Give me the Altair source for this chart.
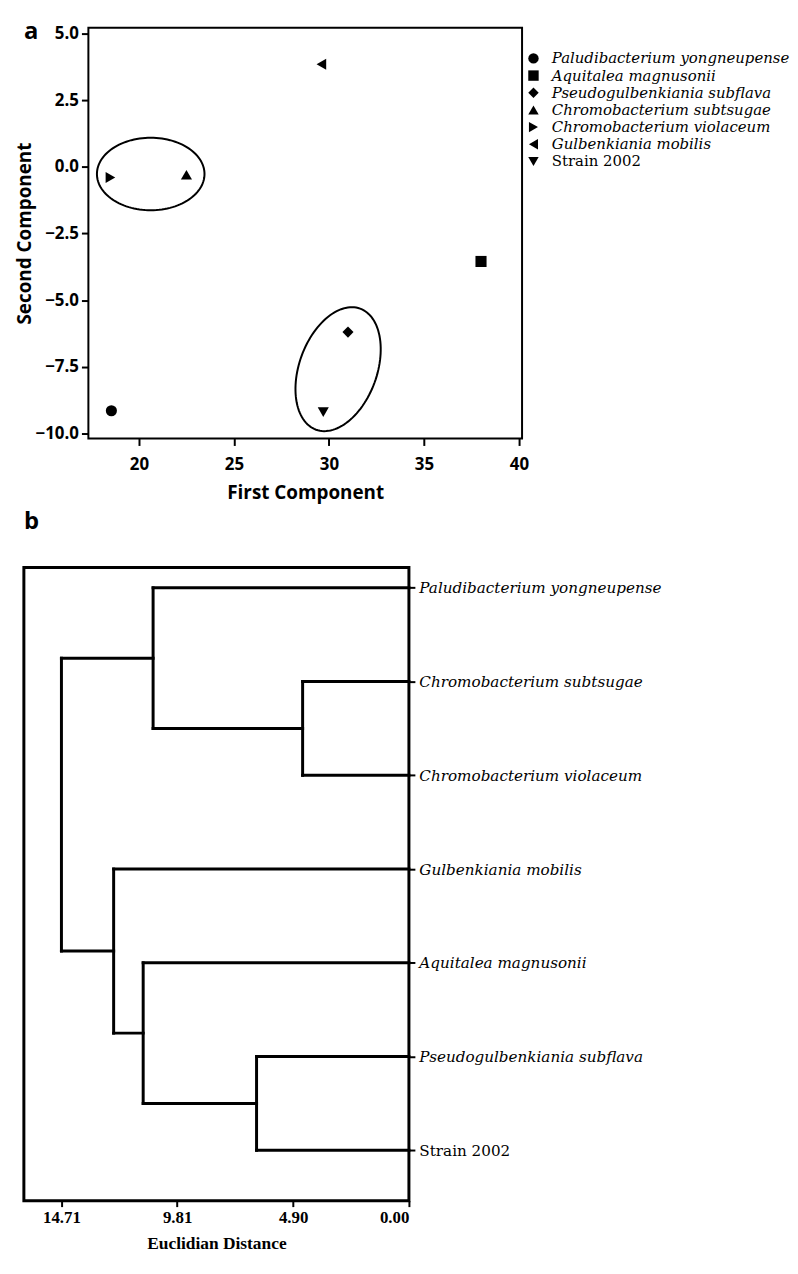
import json
import altair as alt
import numpy as np
import pandas as pd

# ---------------- data: panel a (PCA scatter) ----------------
species = [
    "Paludibacterium yongneupense",
    "Aquitalea magnusonii",
    "Pseudogulbenkiania subflava",
    "Chromobacterium subtsugae",
    "Chromobacterium violaceum",
    "Gulbenkiania mobilis",
    "Strain 2002",
]
first_component = [18.55, 38.0, 31.0, 22.5, 18.5, 29.6, 29.7]
second_component = [-9.15, -3.55, -6.2, -0.3, -0.4, 3.85, -9.2]
marker_shapes = ["circle", "square", "diamond", "triangle-up",
                 "triangle-right", "triangle-left", "triangle-down"]

# cluster ellipses: centre and the two semi-axis vectors (data units)
ellipse_cx = [20.62, 30.48]
ellipse_cy = [-0.27, -7.59]
ellipse_ux = [2.83, 1.16]
ellipse_uy = [0.0, 2.27]
ellipse_vx = [0.0, 1.92]
ellipse_vy = [1.36, -0.50]

x_domain_a = [17.34, 40.16]
y_domain_a = [-10.19, 5.22]
x_ticks_a = [20, 25, 30, 35, 40]
y_ticks_a = [-10.0, -7.5, -5.0, -2.5, 0.0, 2.5, 5.0]

# ---------------- data: panel b (dendrogram) ----------------
dendro_leaves = [
    "Paludibacterium yongneupense",
    "Chromobacterium subtsugae",
    "Chromobacterium violaceum",
    "Gulbenkiania mobilis",
    "Aquitalea magnusonii",
    "Pseudogulbenkiania subflava",
    "Strain 2002",
]
# merges: node ids 0..6 are leaves, merge k creates node 7+k
merge_left = [1, 5, 0, 4, 3, 9]
merge_right = [2, 6, 7, 8, 10, 11]
merge_height = [4.50, 6.45, 10.83, 11.25, 12.50, 14.71]
distance_ticks = [14.71, 9.81, 4.90, 0.00]

# ---------------- build tables ----------------
pts = pd.DataFrame({"species": species, "pc1": first_component, "pc2": second_component})

t = np.linspace(0, 2 * np.pi, 121)
ell_rows = []
for k in range(len(ellipse_cx)):
    for i, tt in enumerate(t):
        ell_rows.append({
            "grp": k, "i": i,
            "x": ellipse_cx[k] + ellipse_ux[k] * np.cos(tt) + ellipse_vx[k] * np.sin(tt),
            "y": ellipse_cy[k] + ellipse_uy[k] * np.cos(tt) + ellipse_vy[k] * np.sin(tt),
        })
ell = pd.DataFrame(ell_rows)
frame_a = pd.DataFrame({"x1": [x_domain_a[0]], "x2": [x_domain_a[1]],
                        "y1": [y_domain_a[0]], "y2": [y_domain_a[1]]})

node_x = {i: 0.0 for i in range(len(dendro_leaves))}
node_y = {i: float(i) for i in range(len(dendro_leaves))}
segs = []
for k, (a, b, h) in enumerate(zip(merge_left, merge_right, merge_height)):
    nid = len(dendro_leaves) + k
    for c in (a, b):
        segs.append({"x": node_x[c], "x2": h, "y": node_y[c], "y2": node_y[c]})
    segs.append({"x": h, "x2": h, "y": node_y[a], "y2": node_y[b]})
    node_x[nid] = h
    node_y[nid] = (node_y[a] + node_y[b]) / 2
segs = pd.DataFrame(segs)

SANS = "Open Sans"
SERIF = "DejaVu Serif"
SERIF_B = "Liberation Serif"

# layout: panel a's frame starts AXIS_ROOM px right of the shared left edge
AXIS_ROOM = 65
PLOT_A_W = 437
PLOT_A_H = 414

# ---------------- panel a ----------------
xa = alt.X("pc1:Q",
           scale=alt.Scale(domain=x_domain_a, range=[AXIS_ROOM, AXIS_ROOM + PLOT_A_W],
                           nice=False, zero=False),
           axis=alt.Axis(title="First Component", values=x_ticks_a, grid=False, domain=False,
                         tickSize=7, tickWidth=2, tickColor="black",
                         labelFont=SANS, labelFontWeight="bold", labelFontSize=17, labelColor="black",
                         labelPadding=11, titleFont=SANS, titleFontWeight="bold", titleFontSize=19,
                         titleColor="black", titlePadding=11))
ya = alt.Y("pc2:Q", scale=alt.Scale(domain=y_domain_a, nice=False, zero=False),
           axis=alt.Axis(title="Second Component", values=y_ticks_a, format=".1f", grid=False,
                         domain=False, offset=-AXIS_ROOM, tickSize=7, tickWidth=2, tickColor="black",
                         labelFont=SANS, labelFontWeight="bold", labelFontSize=17, labelColor="black",
                         labelPadding=3, titleFont=SANS, titleFontWeight="bold", titleFontSize=19,
                         titleColor="black", titlePadding=1))

scatter = alt.Chart(pts).mark_point(filled=True, opacity=1, color="black", size=125).encode(
    x=xa, y=ya,
    shape=alt.Shape("species:N",
                    scale=alt.Scale(domain=species, range=marker_shapes),
                    legend=alt.Legend(title=None, orient="none", legendX=506, legendY=23.5,
                                      labelFont=SERIF, labelFontSize=15, labelColor="black",
                                      labelFontStyle=alt.ExprRef(
                                          expr="datum.value == 'Strain 2002' ? 'normal' : 'italic'"),
                                      symbolFillColor="black", symbolStrokeColor="black",
                                      symbolSize=110, symbolType="circle", labelOffset=11,
                                      rowPadding=0.3, labelLimit=400)),
)

ellipses = alt.Chart(ell).mark_line(color="black", strokeWidth=2).encode(
    x=alt.X("x:Q"), y=alt.Y("y:Q"), detail="grp:N", order="i:Q")

frame = alt.Chart(frame_a).mark_rect(fill=None, stroke="black", strokeWidth=2).encode(
    x="x1:Q", x2="x2:Q", y="y1:Q", y2="y2:Q")

letter_a = alt.Chart(pd.DataFrame({"t": ["a"]})).mark_text(
    font=SANS, fontWeight="bold", fontSize=24, align="left", baseline="alphabetic",
    color="black").encode(text="t:N", x=alt.value(0), y=alt.value(11))

panel_a = alt.layer(frame, ellipses, scatter, letter_a).properties(
    width=AXIS_ROOM + PLOT_A_W, height=PLOT_A_H,
    view=alt.ViewBackground(stroke=None))

# ---------------- panel b ----------------
label_expr = json.dumps(dendro_leaves) + "[datum.value]"
xb = alt.X("x:Q", scale=alt.Scale(domain=[0, 16.3], reverse=True, nice=False, zero=False),
           axis=alt.Axis(title="Euclidian Distance", values=distance_ticks, format=".2f",
                         grid=False, domain=False, tickSize=6, tickWidth=2, tickColor="black",
                         labelFont=SERIF_B, labelFontWeight="bold", labelFontSize=17,
                         labelColor="black", labelPadding=3,
                         titleFont=SERIF_B, titleFontWeight="bold", titleFontSize=17.5,
                         titleColor="black", titlePadding=9))
yb = alt.Y("y:Q", scale=alt.Scale(domain=[-0.217, 6.537], reverse=True, nice=False, zero=False),
           axis=alt.Axis(title=None, orient="right", values=list(range(len(dendro_leaves))),
                         labelExpr=label_expr, grid=False, domain=False,
                         tickSize=6, tickWidth=2, tickColor="black",
                         labelFont=SERIF, labelFontSize=15.3, labelColor="black",
                         labelFontStyle={"condition": {"test": "datum.value == 6", "value": "normal"},
                                         "value": "italic"},
                         labelPadding=4, labelLimit=400))

tree = alt.Chart(segs).mark_rule(color="black", strokeWidth=3, strokeCap="square").encode(
    x=xb, x2="x2:Q", y=yb, y2="y2:Q")

letter_b = alt.Chart(pd.DataFrame({"t": ["b"]})).mark_text(
    font=SANS, fontWeight="bold", fontSize=24, align="left", baseline="alphabetic",
    color="black").encode(text="t:N", x=alt.value(0), y=alt.value(-39))

panel_b = alt.layer(tree, letter_b).properties(
    width=388, height=638,
    view=alt.ViewBackground(stroke="black", strokeWidth=3))

chart = alt.concat(panel_a, panel_b, columns=1, spacing=6).resolve_scale(
    x="independent", y="independent", shape="independent").properties(
    padding={"top": 7, "left": 7, "right": 0, "bottom": 1}, background="white")

chart.save("out.html", embed_options={"renderer": "svg", "actions": False})
